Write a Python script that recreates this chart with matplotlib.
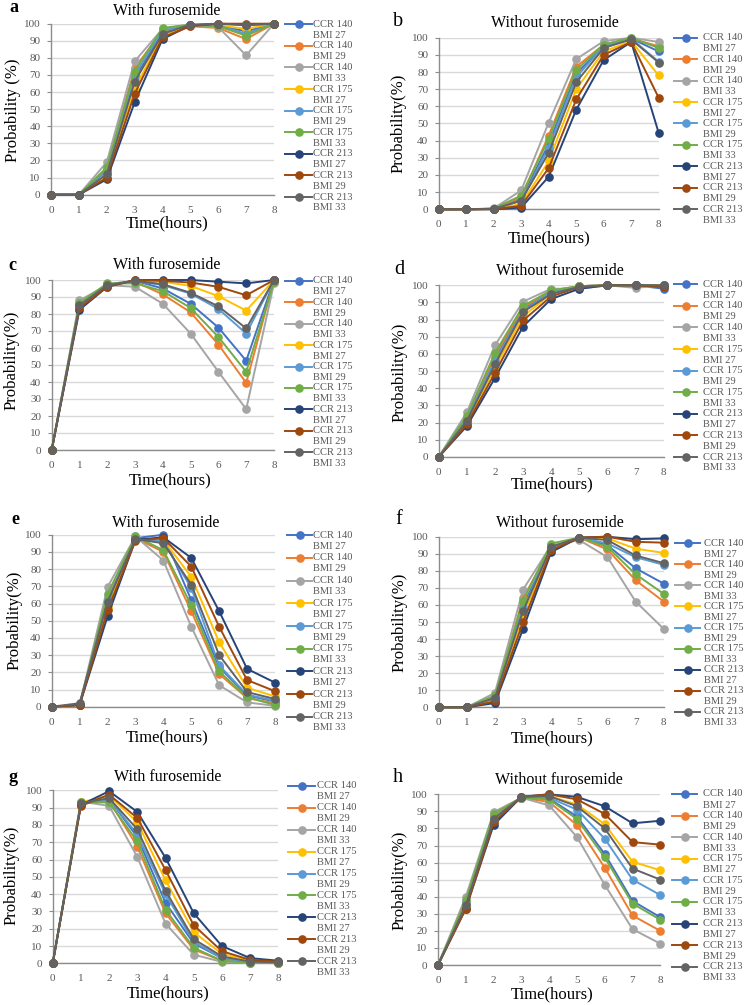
import matplotlib
matplotlib.use("Agg")
import matplotlib.pyplot as plt
from matplotlib.lines import Line2D

W, H = 744, 1005
plt.rcParams['font.family'] = ['Liberation Serif', 'DejaVu Serif']

hours = [0, 1, 2, 3, 4, 5, 6, 7, 8]
series_labels = [("CCR 140", "BMI 27"), ("CCR 140", "BMI 29"), ("CCR 140", "BMI 33"),
                 ("CCR 175", "BMI 27"), ("CCR 175", "BMI 29"), ("CCR 175", "BMI 33"),
                 ("CCR 213", "BMI 27"), ("CCR 213", "BMI 29"), ("CCR 213", "BMI 33")]
colors = ["#4472C4", "#ED7D31", "#A5A5A5", "#FFC000", "#5B9BD5", "#70AD47",
          "#264478", "#9E480E", "#636363"]
yticks = [0, 10, 20, 30, 40, 50, 60, 70, 80, 90, 100]

panel_a = [
    [0, 0, 14, 68, 95, 99, 99, 95.5, 100],
    [0, 0, 15, 74, 96, 98.5, 97.5, 91, 100],
    [0, 0, 19, 78, 97, 99.5, 98, 81.5, 100],
    [0, 0, 12, 62, 93, 99, 99, 97, 100],
    [0, 0, 14, 70, 96, 99, 99, 94, 100],
    [0, 0, 16, 72, 97.5, 99.5, 98.5, 93, 100],
    [0, 0, 9, 54, 91, 99, 100, 99.5, 100],
    [0, 0, 10, 59, 92, 98.5, 100, 100, 100],
    [0, 0, 12, 66, 94, 99.5, 100, 99, 100],
]
panel_b = [
    [0, 0, 0.3, 6, 38, 79, 95, 99.5, 92],
    [0, 0, 0.3, 7, 43, 83, 96, 99.5, 95],
    [0, 0, 0.5, 11, 50.5, 87.5, 98, 100, 97.5],
    [0, 0, 0.2, 3, 28, 70, 92, 98, 78],
    [0, 0, 0.3, 5, 36, 77, 95, 99.5, 86],
    [0, 0, 0.4, 8, 41, 81, 96, 100, 94],
    [0, 0, 0, 1, 19, 58, 87, 97.5, 44.5],
    [0, 0, 0.1, 2, 24, 64, 90, 97.5, 65],
    [0, 0, 0.2, 5, 33, 74, 94, 99, 85.5],
]
panel_c = [
    [0, 85, 97, 99.5, 95, 86, 72, 52.5, 100],
    [0, 85, 97, 99, 91.5, 81, 62, 39.5, 100],
    [0, 88, 97, 96, 86, 68.5, 46, 24, 98],
    [0, 85, 97.5, 99.5, 99, 96.5, 90.5, 82, 100],
    [0, 86, 97.5, 99.5, 97, 92, 83, 68.5, 100],
    [0, 86.5, 98, 98, 93.5, 83.5, 66.5, 46, 99],
    [0, 82.5, 96, 100, 100, 100, 99, 98, 100],
    [0, 83.5, 96, 100, 99.5, 98.5, 96, 91, 100],
    [0, 85, 97, 99.5, 97.5, 92.5, 84.5, 71.5, 100],
]
panel_d = [
    [0, 22, 57, 86, 96, 99.5, 100, 100, 98],
    [0, 23, 59, 87, 97, 99.5, 100, 100, 100],
    [0, 26, 65, 90.5, 98, 98, 100, 98.5, 100],
    [0, 20, 52, 82, 95, 99.5, 100, 100, 100],
    [0, 22, 56, 85, 96, 99.5, 100, 100, 100],
    [0, 24, 60.5, 88, 97, 99.5, 100, 100, 100],
    [0, 18, 46, 76, 92, 98, 100, 100, 99.5],
    [0, 19, 49, 79.5, 93.5, 99, 100, 100, 99],
    [0, 21, 54, 84.5, 95, 99, 100, 100, 100],
]
panel_e = [
    [0, 1, 60, 98, 100, 62, 23, 6.5, 3],
    [0, 1, 63, 98, 90, 55.5, 19, 5, 2],
    [0, 1, 69.5, 99, 85, 46.5, 12.5, 2.5, 0.5],
    [0, 1, 58, 97.5, 97, 75.5, 37.5, 11, 6],
    [0, 1, 62, 98, 96, 69, 24, 7, 3.5],
    [0, 1, 65.5, 99, 91, 59, 20.5, 5.5, 1],
    [0, 1, 52.5, 97, 98.5, 86.5, 55.5, 22, 14],
    [0, 1, 56, 96.5, 98, 81.5, 46.5, 15.5, 9],
    [0, 2, 61, 97.5, 95, 71, 30, 8.5, 4.5],
]
panel_f = [
    [0, 0, 5, 60, 93, 99.5, 95, 81.5, 72.5],
    [0, 0, 6, 64, 94, 99.5, 92.5, 74.5, 62],
    [0, 0, 8.5, 69, 95, 98, 88, 62, 46],
    [0, 0, 4, 54, 92, 99.5, 99, 93, 90.5],
    [0, 0, 6, 58, 94, 99.5, 96, 88, 83.5],
    [0, 0, 7, 62.5, 96, 99.5, 94, 78, 66.5],
    [0, 0, 2.5, 46, 91, 99.5, 100, 98.5, 99],
    [0, 0, 3.5, 50, 92, 99.5, 100, 97, 96.5],
    [0, 0, 5.5, 56.5, 94, 99.5, 98, 89, 84.5],
]
panel_g = [
    [0, 92, 95, 73, 35, 11.5, 3, 0.5, 0.2],
    [0, 92.5, 94, 67.5, 29, 8, 1.5, 0.3, 0.1],
    [0, 93.5, 91, 61.5, 23, 5, 0.8, 0.2, 0.1],
    [0, 93, 97, 81.5, 48, 18, 5.5, 1.5, 0.5],
    [0, 92, 95, 74.5, 40, 12.5, 3, 0.5, 0.2],
    [0, 93, 93, 70.5, 31, 9, 1.5, 0.3, 0.1],
    [0, 91.5, 99.5, 87.5, 61, 29, 10, 3, 1.5],
    [0, 91, 97.5, 84, 54, 22, 7, 2, 1],
    [0, 92.5, 95.5, 77.5, 42, 14, 4, 1, 0.5],
]
panel_h = [
    [0, 36, 86, 98, 97.5, 87, 65, 37.5, 28],
    [0, 36, 87, 98, 95.5, 82, 57, 29, 20],
    [0, 40, 89.5, 98, 93.5, 75, 47, 21, 12.5],
    [0, 34, 84, 98.5, 99, 94, 82.5, 60.5, 55.5],
    [0, 37, 86, 98, 98, 91, 74, 50, 41],
    [0, 38, 88.5, 98, 97, 85.5, 63, 36, 26.5],
    [0, 33, 82, 98.5, 100, 98.5, 93, 83, 84.5],
    [0, 33, 83.5, 98.5, 100, 97, 88.5, 72, 70.5],
    [0, 35, 85.5, 98.5, 99, 93, 80, 56.5, 50],
]

titles = ["With furosemide", "Without furosemide"] * 4
letters = ["a", "b", "c", "d", "e", "f", "g", "h"]
ylabels = ["Probability (%)"] + ["Probability(%)"] * 7
xlabel = "Time(hours)"
panels = [panel_a, panel_b, panel_c, panel_d, panel_e, panel_f, panel_g, panel_h]

# layout in pixels
# axes box: left, right, top(y=100), bottom(y=0)
boxes = [
    (51.0, 274.0, 23.7, 194.7),
    (438.7, 658.7, 37.7, 209.3),
    (51.7, 274.0, 280.0, 450.0),
    (438.7, 663.7, 285.3, 457.0),
    (51.7, 275.0, 534.7, 706.7),
    (438.7, 663.7, 536.7, 707.3),
    (52.7, 278.3, 790.3, 963.3),
    (438.0, 660.3, 794.3, 965.0),
]
title_pos = [(167, 11), (555, 23), (167, 265), (560, 271), (166, 523), (560, 523), (168, 777), (559, 780)]
letter_pos = [(14, 7), (398, 21), (12, 265), (399, 270), (15, 520), (399, 520), (13, 777), (398, 777)]
ylabel_pos = [(13, 110), (399, 123), (12, 360), (400, 372), (15, 620), (400, 622), (12, 875), (400, 880)]
xlabel_pos = [(167, 223), (549, 238), (170, 480), (552, 484), (167, 737), (552, 738), (168, 993), (552, 994.5)]
# legend: line x1, x2, text x, first y, last y
legend_pos = [
    (285, 312, 313, 24.3, 197.0),
    (674, 697, 703, 37.7, 209.3),
    (285, 312, 313, 280.7, 452.3),
    (674, 697, 703, 284.3, 457.0),
    (287, 312, 313, 535.3, 716.7),
    (675, 700, 704, 543.3, 711.7),
    (288, 315, 317, 785.7, 961.3),
    (672, 697, 703, 794.0, 966.7),
]

TICK = "#595959"
SPINE = "#8c8c8c"
GRID = "#d9d9d9"


def fx(x):
    return x / W


def fy(y):
    return 1 - y / H


fig = plt.figure(figsize=(W / 100, H / 100), dpi=100)

for i, data in enumerate(panels):
    l, r, t, b = boxes[i]
    ax = fig.add_axes([fx(l), fy(b), (r - l) / W, (b - t) / H])
    ax.set_xlim(0, 8)
    ax.set_ylim(0, 100)
    ax.set_xticks(hours)
    ax.set_yticks(yticks)
    ax.yaxis.grid(True, color=GRID, lw=1.0)
    ax.set_axisbelow(True)
    for s in ["top", "right"]:
        ax.spines[s].set_visible(False)
    for s in ["left", "bottom"]:
        ax.spines[s].set_color(SPINE)
        ax.spines[s].set_linewidth(1.0)
    ax.tick_params(axis="y", length=3, width=0.8, color=SPINE, pad=4.5,
                   labelsize=8, labelcolor=TICK)
    ax.tick_params(axis="x", length=0, pad=8, labelsize=8, labelcolor=TICK)
    for k, vals in enumerate(data):
        ax.plot(hours, vals, color=colors[k], lw=1.4, marker="o", ms=5.2,
                clip_on=False, zorder=3 + k * 0.01)

    tx, ty = title_pos[i]
    fig.text(fx(tx), fy(ty), titles[i], ha="center", va="center", fontsize=11.5, color="black")
    lx, ly = letter_pos[i]
    if i % 2 == 0:
        fig.text(fx(lx), fy(ly), letters[i], ha="center", va="center", fontsize=13,
                 fontweight="bold", color="black")
    else:
        fig.text(fx(lx), fy(ly), letters[i], ha="center", va="center", fontsize=14.5,
                 color="black")
    yx, yy = ylabel_pos[i]
    fig.text(fx(yx), fy(yy), ylabels[i], ha="center", va="center", rotation=90,
             fontsize=12, color="black")
    xx, xy = xlabel_pos[i]
    fig.text(fx(xx), fy(xy), xlabel, ha="center", va="center", fontsize=12, color="black")

    x1, x2, xt, y0, y1 = legend_pos[i]
    step = (y1 - y0) / 8
    for k in range(9):
        yk = y0 + k * step
        fig.add_artist(Line2D([fx(x1), fx((x1 + x2) / 2), fx(x2)], [fy(yk)] * 3,
                              transform=fig.transFigure, color=colors[k], lw=1.4,
                              marker="o", ms=5.2, markevery=[1]))
        fig.text(fx(xt), fy(yk), series_labels[k][0], ha="left", va="center",
                 fontsize=7.6, color=TICK)
        fig.text(fx(xt), fy(yk + 11), series_labels[k][1], ha="left", va="center",
                 fontsize=7.6, color=TICK)

fig.savefig("out.png", dpi=100)
